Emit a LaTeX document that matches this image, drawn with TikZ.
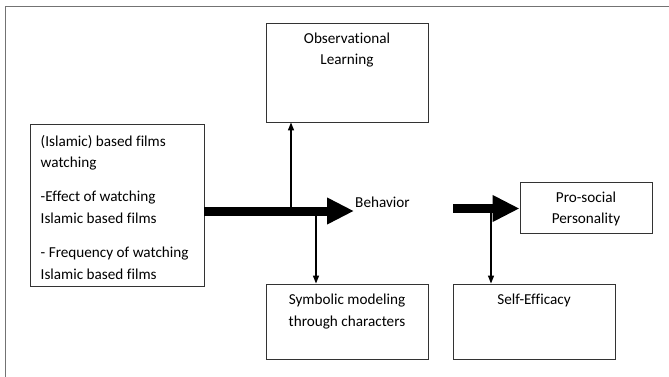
\documentclass[tikz,border=0pt]{standalone}
\usepackage{fontspec}
\setmainfont[Ligatures={NoCommon,NoRare}]{Carlito}
\usetikzlibrary{arrows.meta}
\tikzset{
  box/.style={draw=black!80, line width=0.9pt, rectangle, inner sep=0pt},
  txt/.style={font=\fontsize{15.2}{21.5}\selectfont, inner sep=0pt, align=center},
  thick arrow/.style={line width=9pt, -{Triangle[length=27pt,width=25pt]}},
  thin arrow/.style={line width=1.3pt, -{Triangle[length=8pt,width=6pt]}},
  frame/.style={draw=black!55, line width=1pt}
}
\begin{document}
\begin{tikzpicture}[x=1pt,y=-1pt]
\useasboundingbox (0,0) rectangle (669,377);
% outer frame (top and left only)
\draw[frame] (5,377) -- (5,7) -- (669,7);
% boxes
\node[box, minimum width=174pt, minimum height=162pt] (left) at (117,205) {};
\node[box, minimum width=162pt, minimum height=99pt] (obs) at (347,72.5) {};
\node[box, minimum width=162pt, minimum height=75pt] (sym) at (347,321.5) {};
\node[box, minimum width=132pt, minimum height=51pt] (pro) at (586,207.5) {};
\node[box, minimum width=162pt, minimum height=75pt] (self) at (534,321.5) {};
% texts
\node[txt, align=left, anchor=west] (lefttxt) at (40.5,207) {(Islamic) based films\\watching\\[12.5pt]-Effect of watching\\Islamic based films\\[13pt]- Frequency of watching\\Islamic based films};
\node[txt] (obstxt) at (347,50) {Observational\\Learning};
\node[txt] (symtxt) at (347,311.5) {Symbolic modeling\\through characters};
\node[txt] (protxt) at (586,209) {Pro-social\\Personality};
\node[txt] (selftxt) at (534,300) {Self-Efficacy};
\node[txt] (beh) at (382.5,202) {Behavior};
% thick arrows
\coordinate (tip1) at (354,211);
\coordinate (start2) at (453,208.5);
\draw[thick arrow] (left.east |- tip1) -- (tip1);
\draw[thick arrow] (start2) -- (pro.west |- start2);
% thin arrows
\coordinate (up1) at (291,211);
\coordinate (dn1) at (316,211);
\coordinate (dn2) at (491,208.5);
\draw[thin arrow] (up1) -- (up1 |- obs.south);
\draw[thin arrow] (dn1) -- (dn1 |- sym.north);
\draw[thin arrow] (dn2) -- (dn2 |- self.north);
\end{tikzpicture}
\end{document}
